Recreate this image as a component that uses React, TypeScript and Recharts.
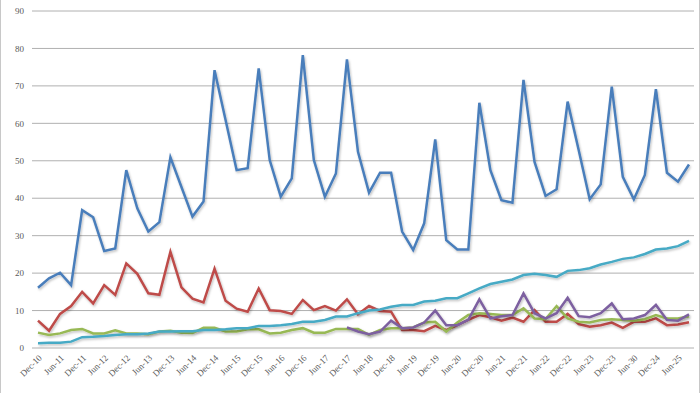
import { LineChart, Line, XAxis, YAxis, CartesianGrid } from "recharts"

const quarters = [
  "Dec-10", "Mar-11", "Jun-11", "Sep-11", "Dec-11", "Mar-12", "Jun-12", "Sep-12",
  "Dec-12", "Mar-13", "Jun-13", "Sep-13", "Dec-13", "Mar-14", "Jun-14", "Sep-14",
  "Dec-14", "Mar-15", "Jun-15", "Sep-15", "Dec-15", "Mar-16", "Jun-16", "Sep-16",
  "Dec-16", "Mar-17", "Jun-17", "Sep-17", "Dec-17", "Mar-18", "Jun-18", "Sep-18",
  "Dec-18", "Mar-19", "Jun-19", "Sep-19", "Dec-19", "Mar-20", "Jun-20", "Sep-20",
  "Dec-20", "Mar-21", "Jun-21", "Sep-21", "Dec-21", "Mar-22", "Jun-22", "Sep-22",
  "Dec-22", "Mar-23", "Jun-23", "Sep-23", "Dec-23", "Mar-24", "Jun-30", "Sep-24",
  "Dec-24", "Mar-25", "Jun-25", "Sep-25",
]

const blueSeries = [
  16.1, 18.6, 20.1, 16.8, 36.8, 34.9, 25.9, 26.6, 47.5, 37.3,
  31.1, 33.6, 50.9, 43.0, 35.1, 39.1, 74.2, 60.9, 47.5, 48.0,
  74.7, 50.2, 40.4, 45.3, 78.2, 50.2, 40.4, 46.6, 77.1, 52.4,
  41.5, 46.8, 46.8, 31.1, 26.2, 33.3, 55.7, 28.8, 26.3, 26.3,
  65.5, 47.5, 39.5, 38.8, 71.6, 49.7, 40.6, 42.4, 65.8, 52.9,
  39.7, 43.7, 69.8, 45.7, 39.7, 46.2, 69.1, 46.8, 44.4, 49.0,
]

const redSeries = [
  7.3, 4.6, 9.1, 11.2, 15.0, 11.9, 16.8, 14.2, 22.6, 19.8,
  14.6, 14.2, 25.7, 16.2, 13.2, 12.2, 21.2, 12.6, 10.5, 9.7,
  15.9, 10.1, 9.9, 9.1, 12.8, 10.1, 11.2, 10.0, 13.0, 9.0,
  11.2, 9.9, 9.7, 4.8, 4.8, 4.5, 5.9, 4.8, 6.1, 7.5,
  8.8, 8.2, 7.3, 8.1, 7.0, 10.1, 7.0, 7.0, 9.1, 6.4,
  5.7, 6.1, 6.8, 5.4, 7.0, 7.0, 7.9, 6.1, 6.3, 6.9,
]

const greenSeries = [
  4.1, 3.5, 3.9, 4.8, 5.1, 3.9, 3.9, 4.7, 3.9, 3.9,
  3.7, 4.4, 4.6, 4.1, 4.0, 5.4, 5.4, 4.4, 4.4, 5.0,
  5.0, 3.9, 4.1, 4.8, 5.3, 4.1, 4.1, 5.1, 5.1, 5.1,
  3.5, 4.8, 5.3, 5.3, 5.5, 6.8, 7.0, 4.4, 6.8, 8.8,
  9.3, 9.1, 8.8, 8.8, 10.6, 7.9, 7.7, 11.2, 7.9, 7.0,
  6.8, 7.5, 7.7, 7.5, 7.3, 7.7, 8.8, 7.9, 7.9, 8.5,
]

const purpleSeries = [
  null, null, null, null, null, null, null, null, null, null,
  null, null, null, null, null, null, null, null, null, null,
  null, null, null, null, null, null, null, null, 5.5, 4.4,
  3.7, 4.4, 7.3, 5.3, 5.5, 6.8, 10.0, 6.1, 6.1, 7.5,
  13.0, 7.9, 8.5, 8.8, 14.6, 9.3, 7.9, 9.3, 13.4, 8.5,
  8.2, 9.3, 11.9, 7.7, 7.9, 8.8, 11.5, 7.5, 7.3, 9.0,
]

const cyanSeries = [
  1.3, 1.4, 1.4, 1.7, 2.9, 3.0, 3.2, 3.5, 3.7, 3.7,
  3.9, 4.4, 4.4, 4.5, 4.5, 4.8, 4.8, 5.0, 5.3, 5.3,
  5.9, 5.9, 6.1, 6.4, 7.0, 7.0, 7.5, 8.4, 8.4, 9.3,
  10.0, 10.3, 11.0, 11.5, 11.5, 12.4, 12.6, 13.3, 13.3, 14.6,
  15.9, 17.1, 17.7, 18.3, 19.5, 19.8, 19.5, 19.0, 20.6, 20.8,
  21.3, 22.3, 23.0, 23.8, 24.2, 25.1, 26.3, 26.6, 27.2, 28.6,
]

const yTicks = [0, 10, 20, 30, 40, 50, 60, 70, 80, 90]

const data = quarters.map((q, i) => ({
  q,
  blue: blueSeries[i],
  red: redSeries[i],
  green: greenSeries[i],
  purple: purpleSeries[i],
  cyan: cyanSeries[i],
}))

const font = "'Liberation Serif', serif"

function XTick({ x, y, payload }: any) {
  return (
    <g transform={`translate(${x},${y - 2})`}>
      <text
        transform="rotate(-45)"
        textAnchor="end"
        dy="0.7em"
        fontSize={9}
        fontFamily={font}
        fill="#595959"
      >
        {payload.value}
      </text>
    </g>
  )
}

export default function App() {
  return (
    <div
      style={{
        position: "absolute",
        left: 0,
        top: 0,
        width: 698,
        height: 393,
        borderLeft: "1px solid #c8c8c8",
        borderRight: "1px solid #c8c8c8",
        background: "#fff",
      }}
    >
      <LineChart
        width={697}
        height={394}
        data={data}
        margin={{ top: 11, right: 4, bottom: 0, left: 0 }}
      >
        <defs>
          <filter id="lineShadow" x="-5%" y="-5%" width="110%" height="120%">
            <feDropShadow dx="1" dy="1.5" stdDeviation="1" floodColor="#000" floodOpacity="0.25" />
          </filter>
        </defs>
        <CartesianGrid vertical={false} stroke="#b0b0b0" strokeWidth={1} />
        <XAxis
          dataKey="q"
          interval={1}
          axisLine={false}
          tickLine={false}
          height={46}
          padding={{ left: 6, right: 5 }}
          tick={<XTick />}
        />
        <YAxis
          domain={[0, 90]}
          ticks={yTicks}
          width={31}
          axisLine={false}
          tickLine={false}
          tick={{ fontSize: 9, fontFamily: font, fill: "#595959" }}
        />
        <Line dataKey="blue" stroke="#4a7ebb" strokeWidth={2.5} dot={false} filter="url(#lineShadow)" isAnimationActive={false} />
        <Line dataKey="red" stroke="#be4b48" strokeWidth={2.5} dot={false} filter="url(#lineShadow)" isAnimationActive={false} />
        <Line dataKey="green" stroke="#98b954" strokeWidth={2.5} dot={false} filter="url(#lineShadow)" isAnimationActive={false} />
        <Line dataKey="purple" stroke="#7d60a0" strokeWidth={2.5} dot={false} filter="url(#lineShadow)" isAnimationActive={false} />
        <Line dataKey="cyan" stroke="#46aac5" strokeWidth={2.5} dot={false} filter="url(#lineShadow)" isAnimationActive={false} />
      </LineChart>
    </div>
  )
}
